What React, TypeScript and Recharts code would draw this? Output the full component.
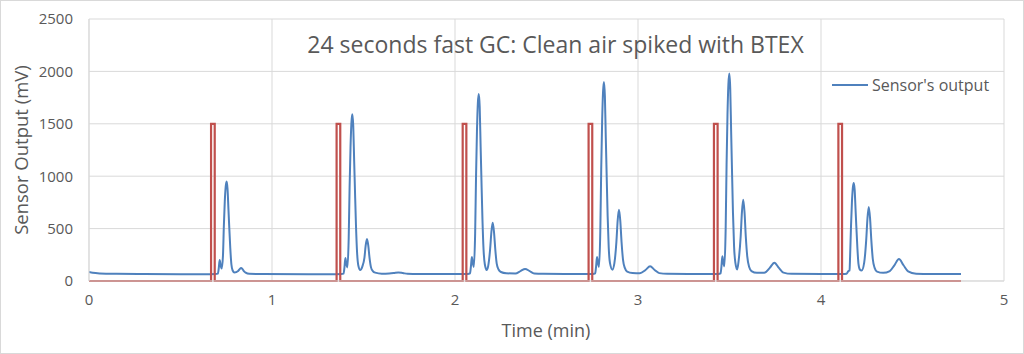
import React from "react";
import { LineChart, Line, XAxis, YAxis, CartesianGrid } from "recharts";

const xTicks = [0, 1, 2, 3, 4, 5];
const yTicks = [0, 500, 1000, 1500, 2000, 2500];

const titleText = "24 seconds fast GC: Clean air spiked with BTEX";
const xAxisTitle = "Time (min)";
const yAxisTitle = "Sensor Output (mV)";
const seriesName = "Sensor's output";

// Injection valve pulses (red trace): [time (min), mV]
const injectionPoints: [number, number][] = [
  [0, 0], [0.667, 0], [0.667, 1500], [0.687, 1500], [0.687, 0],
  [1.353, 0], [1.353, 1500], [1.373, 1500], [1.373, 0],
  [2.042, 0], [2.042, 1500], [2.062, 1500], [2.062, 0],
  [2.73, 0], [2.73, 1500], [2.75, 1500], [2.75, 0],
  [3.415, 0], [3.415, 1500], [3.435, 1500], [3.435, 0],
  [4.095, 0], [4.095, 1500], [4.115, 1500], [4.115, 0],
  [4.765, 0],
];

// Sensor output (blue trace): [time (min), mV]
const sensorPoints: [number, number][] = [
  [0, 85], [0.02, 78], [0.06, 72], [0.15, 68], [0.3, 66], [0.5, 65], [0.66, 65],
  // cycle 1
  [0.692, 66], [0.704, 70], [0.709, 120], [0.714, 200], [0.719, 150], [0.725, 120],
  [0.732, 240], [0.737, 530], [0.742, 760], [0.747, 900], [0.752, 950], [0.757, 880],
  [0.762, 685], [0.766, 530], [0.772, 315], [0.778, 160], [0.785, 100], [0.795, 80],
  [0.815, 95], [0.824, 115], [0.831, 125], [0.838, 115], [0.846, 95], [0.856, 80],
  [0.876, 68], [0.95, 66], [1.2, 65], [1.35, 65],
  // cycle 2
  [1.379, 66], [1.391, 70], [1.396, 130], [1.401, 220], [1.406, 165], [1.412, 130],
  [1.419, 400], [1.424, 890], [1.429, 1270], [1.434, 1510], [1.439, 1590], [1.444, 1480],
  [1.449, 1145], [1.453, 890], [1.459, 525], [1.465, 270], [1.472, 145], [1.482, 105],
  [1.494, 140], [1.505, 220], [1.512, 340], [1.519, 400], [1.526, 340], [1.533, 220],
  [1.541, 130], [1.551, 95], [1.564, 80], [1.6, 70], [1.64, 72], [1.665, 76], [1.69, 82],
  [1.715, 76], [1.74, 68], [1.8, 66], [2.0, 66], [2.04, 66],
  // cycle 3
  [2.07, 66], [2.082, 72], [2.087, 140], [2.092, 230], [2.097, 175], [2.103, 135],
  [2.11, 450], [2.115, 1000], [2.12, 1430], [2.125, 1700], [2.13, 1785], [2.135, 1660],
  [2.14, 1285], [2.144, 1000], [2.15, 590], [2.156, 300], [2.163, 160], [2.173, 105],
  [2.181, 140], [2.192, 305], [2.199, 470], [2.206, 555], [2.213, 470], [2.22, 305],
  [2.228, 165], [2.238, 110], [2.251, 86], [2.28, 74], [2.33, 72], [2.358, 95],
  [2.383, 115], [2.408, 95], [2.433, 72], [2.48, 68], [2.6, 67], [2.72, 67],
  // cycle 4
  [2.754, 66], [2.766, 72], [2.771, 140], [2.776, 230], [2.781, 175], [2.787, 135],
  [2.794, 475], [2.799, 1065], [2.804, 1520], [2.809, 1805], [2.814, 1900], [2.819, 1765],
  [2.824, 1370], [2.828, 1065], [2.834, 625], [2.84, 320], [2.847, 170], [2.86, 108],
  [2.871, 170], [2.882, 375], [2.889, 580], [2.896, 680], [2.903, 580], [2.91, 375],
  [2.918, 205], [2.928, 125], [2.941, 90], [2.97, 76], [3.01, 74], [3.041, 105],
  [3.066, 140], [3.091, 105], [3.116, 75], [3.16, 68], [3.3, 67], [3.41, 67],
  // cycle 5
  [3.44, 66], [3.451, 72], [3.456, 140], [3.461, 235], [3.466, 180], [3.472, 140],
  [3.479, 495], [3.484, 1110], [3.489, 1585], [3.494, 1880], [3.499, 1980], [3.504, 1840],
  [3.509, 1425], [3.513, 1110], [3.519, 650], [3.525, 330], [3.532, 175], [3.542, 110],
  [3.55, 195], [3.561, 425], [3.568, 660], [3.575, 775], [3.582, 660], [3.589, 425],
  [3.597, 235], [3.607, 135], [3.62, 95], [3.65, 78], [3.69, 78], [3.72, 125],
  [3.745, 175], [3.77, 125], [3.795, 80], [3.84, 68], [4.0, 67], [4.09, 67],
  // cycle 6
  [4.118, 66], [4.14, 70], [4.15, 95], [4.156, 100], [4.159, 234], [4.164, 525],
  [4.169, 750], [4.174, 890], [4.179, 935], [4.184, 870], [4.189, 675], [4.193, 525],
  [4.199, 310], [4.205, 160], [4.212, 110], [4.222, 100], [4.236, 176], [4.247, 390],
  [4.254, 600], [4.261, 705], [4.268, 600], [4.275, 390], [4.283, 210], [4.293, 125],
  [4.306, 90], [4.34, 78], [4.376, 95], [4.401, 150], [4.426, 210], [4.451, 150],
  [4.476, 92], [4.52, 70], [4.6, 66], [4.765, 66],
];

const injectionData = injectionPoints.map(([t, v]) => ({ t, v }));
const sensorData = sensorPoints.map(([t, v]) => ({ t, v }));

const BLUE = "#4F81BD";
const RED = "#C0504D";
const TEXT = "#595959";
const GRID = "#D9D9D9";
const FONT = '"Open Sans", sans-serif';

export default function App() {
  return (
    <div
      style={{
        position: "absolute",
        left: 0,
        top: 0,
        width: 1024,
        height: 354,
        background: "#fff",
        fontFamily: FONT,
        overflow: "hidden",
      }}
    >
      <LineChart
        width={1024}
        height={354}
        margin={{ top: 19, right: 20, bottom: 0, left: 0 }}
      >
        <CartesianGrid stroke={GRID} strokeWidth={1} />
        <XAxis
          type="number"
          dataKey="t"
          domain={[0, 5]}
          ticks={xTicks}
          height={73}
          tickLine={false}
          tickSize={0}
          tickMargin={13}
          axisLine={{ stroke: GRID }}
          tick={{ fill: TEXT, fontSize: 15, fontFamily: FONT }}
          allowDataOverflow
        />
        <YAxis
          type="number"
          domain={[0, 2500]}
          ticks={yTicks}
          width={89}
          tickLine={false}
          tickSize={0}
          tickMargin={16}
          axisLine={{ stroke: GRID }}
          tick={{ fill: TEXT, fontSize: 15, fontFamily: FONT }}
        />
        <Line
          data={sensorData}
          dataKey="v"
          type="monotone"
          stroke={BLUE}
          strokeWidth={2}
          dot={false}
          isAnimationActive={false}
          name={seriesName}
        />
        <Line
          data={injectionData}
          dataKey="v"
          type="linear"
          stroke={RED}
          strokeWidth={2.2}
          dot={false}
          isAnimationActive={false}
          name="Injection"
        />
      </LineChart>

      <div
        style={{
          position: "absolute",
          left: 0,
          width: 1111,
          top: 28,
          textAlign: "center",
          fontSize: 23,
          color: TEXT,
          lineHeight: "32px",
          whiteSpace: "nowrap",
        }}
      >
        {titleText}
      </div>

      <div
        style={{
          position: "absolute",
          left: 832,
          top: 74,
          display: "flex",
          alignItems: "center",
          height: 22,
          whiteSpace: "nowrap",
        }}
      >
        <svg width={36} height={22} style={{ display: "block" }}>
          <line x1={0} y1={11} x2={36} y2={11} stroke={BLUE} strokeWidth={2} />
        </svg>
        <span style={{ marginLeft: 4, fontSize: 16, color: TEXT, lineHeight: "22px" }}>
          {seriesName}
        </span>
      </div>

      <div
        style={{
          position: "absolute",
          left: 446,
          width: 200,
          top: 318,
          textAlign: "center",
          fontSize: 18,
          color: TEXT,
          lineHeight: "24px",
          whiteSpace: "nowrap",
        }}
      >
        {xAxisTitle}
      </div>

      <div
        style={{
          position: "absolute",
          left: 21 - 100,
          top: 150 - 12,
          width: 200,
          height: 24,
          textAlign: "center",
          fontSize: 18.5,
          color: TEXT,
          lineHeight: "24px",
          whiteSpace: "nowrap",
          transform: "rotate(-90deg)",
        }}
      >
        {yAxisTitle}
      </div>

      <div
        style={{
          position: "absolute",
          left: 0,
          top: 0,
          width: 1024,
          height: 354,
          boxSizing: "border-box",
          border: "1px solid #D9D9D9",
          pointerEvents: "none",
        }}
      />
    </div>
  );
}
